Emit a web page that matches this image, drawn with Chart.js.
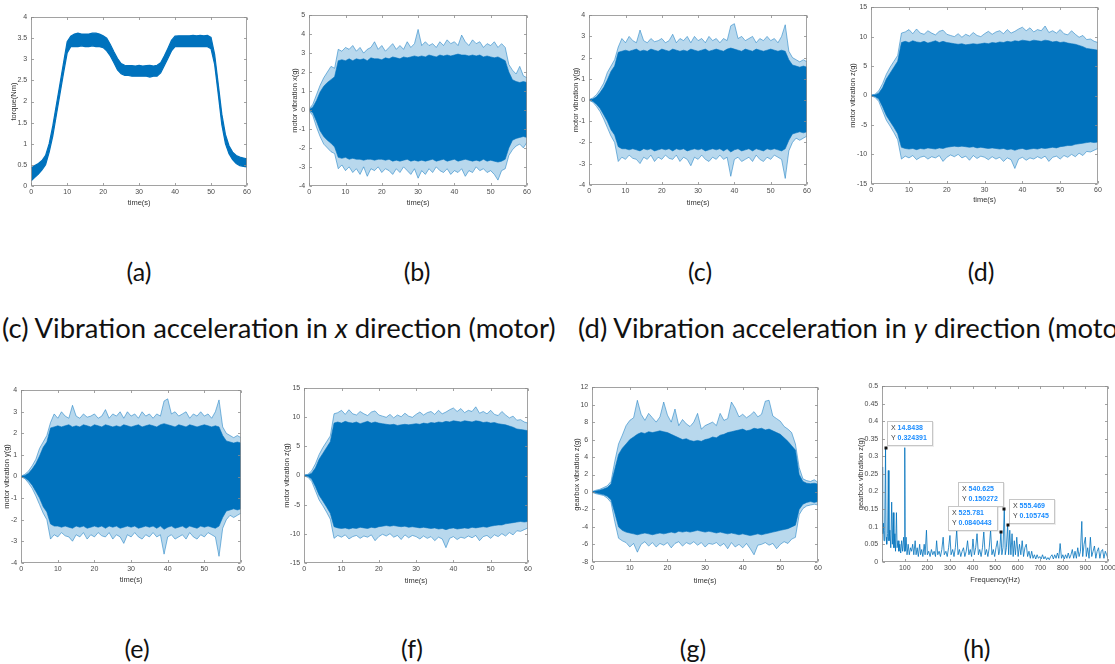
<!DOCTYPE html>
<html><head><meta charset="utf-8">
<script src="https://cdn.jsdelivr.net/npm/chart.js@4.4.0/dist/chart.umd.min.js"></script>
<style>
html,body{margin:0;padding:0;background:#fff;width:1115px;height:664px;overflow:hidden;position:relative}
canvas{position:absolute}
.lab{position:absolute;font-family:Lato,'Open Sans',sans-serif;color:#111;white-space:nowrap;transform:translate(-50%,-50%);line-height:1;font-size:25px}
.cap{position:absolute;font-family:Lato,'Open Sans',sans-serif;color:#111;white-space:nowrap;transform:translateY(-50%);line-height:1;font-size:22px}
</style></head><body>
<div class="lab" style="left:139px;top:271px">(a)</div>
<div class="lab" style="left:417px;top:271px">(b)</div>
<div class="lab" style="left:700px;top:271px">(c)</div>
<div class="lab" style="left:981px;top:271px">(d)</div>
<div class="cap" id="cap1" style="left:2px;top:328px">(c) Vibration acceleration in <i>x</i> direction (motor)</div>
<div class="cap" id="cap2" style="left:578px;top:328px">(d) Vibration acceleration in <i>y</i> direction (motor)</div>
<div class="lab" style="left:137px;top:648px">(e)</div>
<div class="lab" style="left:412px;top:648px">(f)</div>
<div class="lab" style="left:693px;top:648px">(g)</div>
<div class="lab" style="left:977px;top:648px">(h)</div>
<script>
// ---------------- DATA ----------------
const timeS = [0,1,2,3,4,5,6,7,8,9,10,11,12,13,14,15,16,17,18,19,20,21,22,23,24,25,26,27,28,29,30,31,32,33,34,35,36,37,38,39,40,41,42,43,44,45,46,47,48,49,50,51,52,53,54,55,56,57,58,59,60];

// (a) torque band (Nm)
const torqueLo = [0.12,0.2,0.28,0.38,0.5,0.8,1.18,1.68,2.18,2.68, 3.15,3.3,3.3,3.3,3.32,3.3,3.3,3.32,3.3,3.3, 3.28,3.2,3.08,2.92,2.75,2.66,2.62,2.62,2.6,2.6, 2.6,2.6,2.6,2.58,2.6,2.6,2.68,2.85,3.02,3.2, 3.3,3.3,3.3,3.3,3.3,3.3,3.3,3.3,3.3,3.3, 3.25,2.88,2.18,1.45,1.0,0.76,0.62,0.53,0.48,0.46, 0.45];
const torqueHi = [0.42,0.48,0.53,0.6,0.72,1.0,1.42,1.92,2.42,2.92, 3.42,3.55,3.6,3.62,3.6,3.6,3.6,3.62,3.62,3.6, 3.56,3.5,3.35,3.18,3.02,2.9,2.86,2.85,2.85,2.84, 2.86,2.84,2.85,2.86,2.84,2.86,2.92,3.08,3.26,3.45, 3.55,3.56,3.56,3.56,3.56,3.57,3.56,3.57,3.56,3.57, 3.52,3.12,2.42,1.7,1.22,0.95,0.8,0.72,0.68,0.66, 0.64];

// (b) motor vibration x (g)
const mxHi = [0.02,0.15,0.5,0.95,1.25,1.45,1.6,1.75,2.6,2.65, 2.6,2.7,2.6,2.7,2.65,2.7,2.6,2.75,2.7,2.7, 2.65,2.75,2.7,2.8,2.75,2.7,2.8,2.75,2.8,2.85, 2.8,2.85,2.8,2.9,2.85,2.8,2.9,2.85,2.9,2.85, 2.9,2.95,2.9,2.9,2.85,2.9,2.85,2.9,2.8,2.85, 2.8,2.75,2.8,2.7,2.6,2.0,1.6,1.5,1.45,1.5, 1.45];
const mxLo = [-0.02,-0.15,-0.6,-1.1,-1.4,-1.6,-1.75,-1.95,-2.5,-2.55, -2.5,-2.6,-2.55,-2.6,-2.6,-2.65,-2.6,-2.6,-2.65,-2.6, -2.6,-2.65,-2.6,-2.7,-2.65,-2.7,-2.65,-2.6,-2.7,-2.65, -2.7,-2.65,-2.7,-2.65,-2.6,-2.7,-2.65,-2.6,-2.7,-2.65, -2.6,-2.7,-2.65,-2.6,-2.65,-2.7,-2.65,-2.7,-2.6,-2.7, -2.65,-2.7,-2.75,-2.7,-2.6,-2.0,-1.6,-1.5,-1.45,-1.4, -1.45];
const mxPkHi = [0.05,0.3,0.8,1.3,1.7,2.0,2.3,2.2,3.2,3.1, 3.3,3.2,3.4,3.1,3.3,3.0,3.2,3.3,3.6,3.2, 3.4,3.1,3.3,3.5,3.2,3.4,3.2,3.6,3.3,3.5, 4.25,3.4,3.6,3.4,3.5,3.3,3.6,3.4,3.7,3.5, 3.6,3.4,3.95,3.6,3.4,3.7,3.5,3.6,3.3,3.5, 3.4,3.6,3.3,3.5,3.3,2.4,2.1,1.9,2.3,1.8, 1.7];
const mxPkLo = [-0.05,-0.3,-0.9,-1.4,-1.8,-2.0,-2.2,-2.3,-3.1,-2.9, -3.2,-3.0,-3.3,-3.1,-3.4,-3.0,-3.5,-3.1,-3.2,-3.0, -3.3,-3.1,-3.2,-3.4,-3.1,-3.3,-3.0,-3.2,-3.4,-3.1, -3.6,-3.2,-3.4,-3.1,-3.3,-3.0,-3.2,-3.3,-3.1,-3.4, -3.2,-3.3,-3.1,-3.5,-3.2,-3.3,-3.0,-3.2,-3.1,-3.3, -3.2,-3.4,-3.7,-3.2,-3.1,-2.4,-2.1,-1.9,-1.8,-2.0, -1.7];

// (c),(e) motor vibration y (g)
const myHi = [0.01,0.05,0.15,0.35,0.6,0.95,1.35,1.6,2.25,2.3, 2.35,2.3,2.35,2.4,2.3,2.35,2.3,2.4,2.35,2.3, 2.4,2.35,2.3,2.4,2.35,2.3,2.35,2.3,2.4,2.35, 2.3,2.35,2.4,2.3,2.35,2.4,2.35,2.3,2.4,2.45, 2.4,2.35,2.3,2.4,2.35,2.3,2.4,2.35,2.3,2.35, 2.4,2.35,2.3,2.35,2.3,1.9,1.65,1.6,1.55,1.6, 1.55];
const myLo = [-0.01,-0.06,-0.2,-0.4,-0.7,-1.0,-1.4,-1.65,-2.2,-2.3, -2.3,-2.35,-2.3,-2.35,-2.4,-2.3,-2.35,-2.3,-2.4,-2.35, -2.3,-2.35,-2.3,-2.4,-2.3,-2.35,-2.3,-2.4,-2.35,-2.3, -2.35,-2.3,-2.4,-2.35,-2.3,-2.35,-2.3,-2.4,-2.3,-2.45, -2.35,-2.3,-2.4,-2.35,-2.3,-2.4,-2.3,-2.35,-2.4,-2.3, -2.35,-2.3,-2.35,-2.4,-2.3,-1.9,-1.6,-1.55,-1.5,-1.55, -1.5];
const myPkHi = [0.02,0.1,0.25,0.5,0.8,1.3,1.6,1.9,2.5,2.9, 2.7,3.0,2.8,2.7,3.3,2.8,2.7,2.9,2.75,2.8, 2.9,2.7,2.8,3.1,2.7,2.9,2.8,3.0,2.7,3.0, 2.8,2.9,2.7,3.0,2.8,2.9,2.7,2.9,2.8,3.5, 3.6,2.9,3.0,2.8,2.9,3.0,2.7,2.9,2.8,3.0, 2.8,2.9,2.7,3.0,3.55,2.3,2.0,1.9,1.8,1.9, 1.8];
const myPkLo = [-0.02,-0.1,-0.3,-0.55,-0.9,-1.3,-1.7,-2.0,-2.9,-2.7, -2.8,-2.6,-2.75,-2.8,-3.0,-2.7,-2.8,-2.6,-2.9,-2.7, -2.8,-2.6,-2.75,-2.8,-2.6,-2.9,-2.7,-2.8,-3.1,-2.7, -2.8,-2.6,-2.8,-2.9,-2.7,-2.8,-2.6,-2.8,-2.7,-3.6, -2.8,-2.7,-2.9,-2.8,-2.7,-2.9,-2.6,-2.8,-2.9,-2.7, -2.8,-2.6,-2.7,-2.8,-3.7,-2.4,-2.0,-1.8,-1.9,-1.8, -1.7];

// (d),(f) motor vibration z (g)
const mzHi = [0.05,0.1,0.4,1.3,2.8,3.8,4.8,5.8,9.0,9.2, 9.0,9.3,9.1,9.0,9.2,8.9,9.1,9.3,9.0,9.2, 9.0,8.9,8.8,8.7,8.8,8.6,8.7,8.8,8.7,8.8, 8.9,8.8,9.0,8.9,9.1,9.0,9.2,9.1,9.3,9.2, 9.4,9.3,9.2,9.4,9.3,9.2,9.4,9.3,9.1,9.2, 9.0,9.1,8.9,8.8,8.7,8.5,8.3,8.0,7.9,7.8, 7.7];
const mzLo = [-0.05,-0.15,-0.6,-1.9,-3.4,-4.4,-5.4,-6.5,-8.8,-9.0, -9.1,-9.0,-9.2,-9.0,-9.1,-8.9,-9.0,-9.1,-8.9,-9.0, -8.8,-8.7,-8.6,-8.7,-8.6,-8.7,-8.8,-8.7,-8.9,-8.8, -8.9,-9.0,-8.9,-9.0,-9.1,-9.0,-9.2,-9.1,-9.3,-9.1, -9.0,-9.2,-9.1,-9.0,-9.1,-8.9,-9.0,-8.9,-8.8,-8.9, -8.7,-8.6,-8.5,-8.5,-8.3,-8.2,-8.1,-8.0,-7.9,-8.0, -7.9];
const mzPkHi = [0.1,0.2,0.8,2.0,3.6,4.8,5.8,6.8,10.6,10.8, 11.2,10.5,11.3,10.6,10.4,11.0,10.6,10.3,10.9,11.1, 10.4,10.2,10.0,10.5,9.9,10.4,10.1,10.7,10.2,10.0, 10.5,10.9,10.4,10.8,11.0,10.5,11.2,10.6,10.9,11.3, 11.6,11.0,11.5,10.8,11.2,11.0,11.8,10.7,11.0,10.6, 11.2,10.5,10.3,11.0,10.4,9.9,10.2,9.5,9.6,9.2, 9.0];
const mzPkLo = [-0.1,-0.3,-1.0,-2.6,-4.2,-5.2,-6.3,-7.5,-10.8,-10.3, -10.6,-10.2,-10.9,-10.5,-10.3,-10.8,-10.4,-10.6,-10.2,-11.2, -10.5,-10.1,-10.4,-10.0,-10.6,-10.3,-11.0,-10.2,-10.7,-10.3, -10.5,-10.9,-10.4,-10.8,-10.5,-11.2,-10.6,-10.9,-12.4,-10.8, -10.5,-11.0,-10.6,-10.8,-10.4,-10.7,-10.3,-11.2,-10.5,-10.3, -10.8,-10.2,-10.5,-10.0,-10.4,-9.8,-10.2,-9.5,-9.6,-9.3, -9.0];

// (g) gearbox vibration z (g)
const gbHi = [0.02,0.1,0.2,0.35,0.5,0.9,2.6,4.3,5.0,5.5, 6.0,6.3,6.6,6.8,6.7,6.9,6.8,6.9,7.0,6.9, 6.8,6.6,6.4,6.2,6.0,6.1,5.9,5.8,5.9,5.8, 6.0,6.1,6.3,6.2,6.5,6.6,6.8,6.9,7.0,7.1, 7.2,7.0,7.1,7.3,7.2,7.3,7.1,7.2,7.0,6.8, 6.6,6.2,5.8,5.3,4.8,2.0,1.2,1.0,0.95,1.0, 0.9];
const gbLo = [-0.02,-0.1,-0.2,-0.3,-0.5,-0.9,-2.4,-4.0,-4.4,-4.6, -4.7,-4.8,-4.9,-4.8,-4.7,-4.8,-4.9,-4.8,-4.7,-4.8, -4.7,-4.6,-4.7,-4.5,-4.6,-4.5,-4.6,-4.5,-4.4,-4.5, -4.6,-4.5,-4.6,-4.7,-4.6,-4.7,-4.8,-4.7,-4.8,-4.9, -4.8,-4.9,-5.0,-4.9,-4.8,-4.9,-4.8,-4.7,-4.6,-4.5, -4.4,-4.3,-4.2,-4.0,-3.8,-2.0,-1.4,-1.2,-1.1,-1.2, -1.1];
const gbPkHi = [0.05,0.2,0.3,0.5,0.7,1.2,3.5,5.5,6.5,7.6, 8.2,8.5,10.5,8.9,8.2,9.0,8.5,8.0,8.6,10.3, 8.8,8.0,9.5,7.6,8.3,7.8,7.5,8.0,9.0,7.2, 7.6,7.8,8.0,7.6,9.0,8.2,8.4,10.3,9.6,8.6, 8.9,8.5,8.8,9.2,8.6,8.9,10.4,10.5,8.7,8.4, 8.1,7.5,7.2,6.8,5.5,2.8,1.5,1.3,1.2,1.4, 1.1];
const gbPkLo = [-0.05,-0.2,-0.3,-0.4,-0.7,-1.2,-3.4,-5.3,-5.6,-5.8, -6.3,-5.9,-6.9,-6.0,-5.7,-6.2,-5.8,-6.3,-5.9,-6.1, -5.8,-6.4,-5.9,-5.7,-6.2,-5.8,-6.0,-5.7,-6.1,-5.8, -6.3,-5.9,-6.0,-5.8,-6.2,-5.9,-6.5,-5.8,-6.3,-6.0, -6.4,-5.9,-6.5,-7.2,-6.1,-6.0,-5.8,-6.1,-5.9,-6.5, -6.0,-5.7,-5.9,-5.4,-5.2,-2.6,-1.9,-1.6,-1.5,-1.4, -1.5];

// (h) gearbox spectrum
const freqHz = [0,2,5,8,11,14.8438,17,20,24,27,30,34,38,42,45,49,52,56,59,63,66,70,74,78,82,86,90,95,98,100,102,106,110,115,120,125,130,135,140,146,150,155,160,166,170,175,180,186,190,196,200,206,212,218,224,230,236,241,246,252,258,264,270,275,282,288,294,300,305,312,318,324,330,336,342,348,354,360,366,372,378,384,390,396,402,408,414,420,426,432,438,444,450,456,462,468,474,480,486,492,498,504,510,516,520,525.781,530,535,540.625,545,550,555.469,560,565,570,575,580,585,590,596,602,608,614,620,626,632,638,644,650,656,662,668,674,680,686,692,698,704,710,716,722,728,734,740,746,752,758,764,770,776,782,788,794,800,806,812,818,824,830,836,842,848,854,860,866,872,878,884,888,894,900,904,910,916,922,928,934,940,946,952,958,964,970,976,982,988,994,1000];
const ampG = [0.27,0.08,0.11,0.06,0.09,0.324391,0.07,0.05,0.08,0.26,0.06,0.09,0.04,0.17,0.05,0.14,0.04,0.08,0.03,0.14,0.04,0.06,0.03,0.05,0.025,0.06,0.03,0.07,0.03,0.325,0.03,0.07,0.02,0.05,0.02,0.04,0.03,0.05,0.02,0.06,0.02,0.04,0.015,0.05,0.02,0.035,0.015,0.05,0.02,0.09,0.02,0.03,0.015,0.035,0.02,0.03,0.015,0.06,0.02,0.03,0.015,0.035,0.07,0.02,0.03,0.015,0.04,0.075,0.02,0.035,0.015,0.04,0.09,0.02,0.035,0.015,0.03,0.04,0.015,0.03,0.06,0.02,0.035,0.015,0.065,0.02,0.04,0.08,0.02,0.035,0.015,0.04,0.085,0.02,0.035,0.015,0.04,0.09,0.02,0.035,0.015,0.04,0.06,0.02,0.03,0.0840443,0.02,0.04,0.150272,0.02,0.04,0.105745,0.02,0.09,0.02,0.08,0.015,0.06,0.02,0.07,0.015,0.05,0.02,0.06,0.015,0.04,0.05,0.015,0.03,0.01,0.03,0.01,0.02,0.008,0.02,0.01,0.015,0.008,0.02,0.008,0.015,0.006,0.012,0.006,0.015,0.02,0.008,0.02,0.01,0.025,0.01,0.052,0.01,0.02,0.008,0.02,0.01,0.025,0.01,0.02,0.035,0.01,0.03,0.01,0.04,0.015,0.03,0.115,0.015,0.05,0.07,0.015,0.04,0.01,0.07,0.015,0.03,0.045,0.01,0.03,0.04,0.01,0.03,0.035,0.01,0.03,0.02,0.01];

// data tips on (h)
const tipFreq = [14.8438, 540.625, 525.781, 555.469];
const tipAmp  = [0.324391, 0.150272, 0.0840443, 0.105745];

// tick values
const timeTicks = [0,10,20,30,40,50,60];
const freqTicks = [0,100,200,300,400,500,600,700,800,900,1000];

// ---------------- STYLE / BUILD ----------------
const DARK = '#0072BD';
const LIGHT_FILL = 'rgba(0,114,189,0.28)';
const LIGHT_LINE = 'rgba(0,114,189,0.55)';
const FONT = "'Liberation Sans', Arial, Helvetica, sans-serif";
Chart.defaults.font.family = FONT;

const pts = (xs, ys) => xs.map((x, i) => ({x, y: ys[i]}));

function bandSets(hi, lo, pkHi, pkLo) {
  return [
    {data: pts(timeS, hi), fill: '+1', backgroundColor: DARK, borderColor: DARK, borderWidth: 0.6},
    {data: pts(timeS, lo), fill: false, borderColor: DARK, borderWidth: 0.6},
    {data: pts(timeS, pkHi), fill: '+1', backgroundColor: LIGHT_FILL, borderColor: LIGHT_LINE, borderWidth: 0.9},
    {data: pts(timeS, pkLo), fill: false, borderColor: LIGHT_LINE, borderWidth: 0.9}
  ];
}

const framePlugin = {
  id: 'frame',
  afterDatasetsDraw(chart) {
    const {ctx, chartArea: a, scales} = chart;
    ctx.save();
    ctx.strokeStyle = '#8c8c8c';
    ctx.lineWidth = 0.8;
    const L = Math.round(a.left) + 0.5, T = Math.round(a.top) + 0.5;
    const R = Math.round(a.right) - 0.5, B = Math.round(a.bottom) - 0.5;
    ctx.strokeRect(L, T, R - L, B - T);
    ctx.beginPath();
    scales.x.ticks.forEach(t => {
      const px = Math.round(scales.x.getPixelForValue(t.value)) + 0.5;
      ctx.moveTo(px, B); ctx.lineTo(px, B - 2.5);
      ctx.moveTo(px, T); ctx.lineTo(px, T + 2.5);
    });
    scales.y.ticks.forEach(t => {
      const py = Math.round(scales.y.getPixelForValue(t.value)) + 0.5;
      ctx.moveTo(L, py); ctx.lineTo(L + 2.5, py);
      ctx.moveTo(R, py); ctx.lineTo(R - 2.5, py);
    });
    ctx.stroke();
    ctx.restore();
  }
};

const tipPlugin = {
  id: 'tips',
  afterDraw(chart, args, opts) {
    if (!opts || !opts.items) return;
    const {ctx, scales: {x, y}} = chart;
    opts.items.forEach(it => {
      const px = x.getPixelForValue(it.x), py = y.getPixelForValue(it.y);
      ctx.save();
      const lf = "7px " + FONT, vf = "bold 7px " + FONT;
      ctx.font = lf; const wl = ctx.measureText('Y ').width;
      ctx.font = vf; const wv = Math.max(ctx.measureText(String(it.x)).width, ctx.measureText(String(it.y)).width);
      const bw = Math.round(4 + wl + wv + 5), bh = 24;
      let bx = it.side === 'l' ? px - it.gap - bw : px + it.gap;
      bx = Math.round(bx); const by = Math.round(py + it.dy);
      ctx.fillStyle = 'rgba(0,0,0,0.07)'; ctx.fillRect(bx + 1, by + 1, bw + 1, bh + 1);
      ctx.fillStyle = 'rgba(255,255,255,0.96)'; ctx.fillRect(bx, by, bw, bh);
      ctx.strokeStyle = '#c6c6c6'; ctx.lineWidth = 1; ctx.strokeRect(bx + 0.5, by + 0.5, bw, bh);
      ctx.textBaseline = 'middle';
      ctx.font = lf; ctx.fillStyle = '#404040';
      ctx.fillText('X', bx + 4, by + 7.5); ctx.fillText('Y', bx + 4, by + 17);
      ctx.font = vf; ctx.fillStyle = '#1a8cff';
      ctx.fillText(String(it.x), bx + 4 + wl, by + 7.5); ctx.fillText(String(it.y), bx + 4 + wl, by + 17);
      ctx.fillStyle = '#111'; ctx.fillRect(Math.round(px) - 1.5, Math.round(py) - 1.5, 3, 3);
      ctx.restore();
    });
  }
};

const fmt = v => String(Number(Number(v).toFixed(4)));

function makeChart(s) {
  const yW = s.L - s.ytc + 4.2, xH = s.xtc - s.B + 4.2;
  const pT = 6, pR = 10;
  const W = Math.round(yW + (s.R - s.L) + pR), H = Math.round(pT + (s.B - s.T) + xH);
  const cv = document.createElement('canvas');
  cv.width = W; cv.height = H; cv.style.width = W + 'px'; cv.style.height = H + 'px';
  cv.style.left = (s.L - yW) + 'px'; cv.style.top = (s.T - pT) + 'px';
  document.body.appendChild(cv);
  const tickFont = {family: FONT, size: 7};
  const titleFont = {family: FONT, size: 7.5};
  const chart = new Chart(cv, {
    type: 'line',
    data: {datasets: s.datasets},
    options: {
      responsive: false, animation: false, devicePixelRatio: 1,
      layout: {padding: {top: pT, right: pR, left: 0, bottom: 0}},
      plugins: {legend: {display: false}, tooltip: {enabled: false}, tips: s.tips || {}},
      elements: {point: {radius: 0}, line: {tension: 0}},
      scales: {
        x: {
          type: 'linear', min: s.xTicks[0], max: s.xTicks[s.xTicks.length - 1],
          afterBuildTicks: sc => { sc.ticks = s.xTicks.map(v => ({value: v})); },
          afterFit: sc => { sc.height = xH; },
          grid: {display: false, drawTicks: false}, border: {display: false},
          ticks: {font: tickFont, color: '#4a4a4a', padding: 2, maxRotation: 0, autoSkip: false,
                  callback: v => (s.hideX0 && v === 0) ? '' : fmt(v)},
          title: {display: true, text: s.xTitle, font: titleFont, color: '#333', padding: 0}
        },
        y: {
          type: 'linear', min: s.yTicks[0], max: s.yTicks[s.yTicks.length - 1],
          afterBuildTicks: sc => { sc.ticks = s.yTicks.map(v => ({value: v})); },
          afterFit: sc => { sc.width = yW; },
          grid: {display: false, drawTicks: false}, border: {display: false},
          ticks: {font: tickFont, color: '#4a4a4a', padding: 4, autoSkip: false, callback: v => fmt(v)},
          title: {display: true, text: s.yTitle, font: titleFont, color: '#333', padding: 0}
        }
      }
    },
    plugins: [framePlugin, tipPlugin]
  });
  const a = chart.chartArea;
  const dw = (s.R - s.L) - (a.right - a.left), dh = (s.B - s.T) - (a.bottom - a.top);
  if (Math.abs(dw) > 0.5 || Math.abs(dh) > 0.5) {
    const nW = Math.round(W + dw), nH = Math.round(H + dh);
    cv.width = nW; cv.height = nH; cv.style.width = nW + 'px'; cv.style.height = nH + 'px';
    chart.resize(nW, nH);
  }
  const b = chart.chartArea;
  cv.style.left = (s.L - b.left) + 'px';
  cv.style.top = (s.T - b.top) + 'px';
  return chart;
}

const range = (a, b, st) => { const r = []; for (let v = a; v <= b + 1e-9; v += st) r.push(+v.toFixed(4)); return r; };

const tTitle = 'time(s)';
makeChart({L:31, T:17, R:247, B:188, ytc:13, xtc:205, xTicks: timeTicks, yTicks: range(0,4,0.5),
  xTitle: tTitle, yTitle: 'torque(Nm)',
  datasets: [{data: pts(timeS, torqueHi), fill: '+1', backgroundColor: DARK, borderColor: DARK, borderWidth: 1.2},
             {data: pts(timeS, torqueLo), fill: false, borderColor: DARK, borderWidth: 1.2}]});
makeChart({L:309, T:15, R:527, B:188, ytc:294, xtc:205, xTicks: timeTicks, yTicks: range(-4,5,1),
  xTitle: tTitle, yTitle: 'motor vibration x(g)', datasets: bandSets(mxHi, mxLo, mxPkHi, mxPkLo)});
makeChart({L:589, T:15, R:807, B:187, ytc:575, xtc:205, xTicks: timeTicks, yTicks: range(-4,4,1),
  xTitle: tTitle, yTitle: 'motor vibration y(g)', datasets: bandSets(myHi, myLo, myPkHi, myPkLo)});
makeChart({L:871, T:7, R:1098, B:186, ytc:852, xtc:202, xTicks: timeTicks, yTicks: range(-15,15,5),
  xTitle: tTitle, yTitle: 'motor vibration z(g)', datasets: bandSets(mzHi, mzLo, mzPkHi, mzPkLo)});
makeChart({L:21, T:390, R:241, B:565, ytc:6, xtc:582, xTicks: timeTicks, yTicks: range(-4,4,1),
  xTitle: tTitle, yTitle: 'motor vibration y(g)', datasets: bandSets(myHi, myLo, myPkHi, myPkLo)});
makeChart({L:304, T:388, R:528, B:565, ytc:286, xtc:583, xTicks: timeTicks, yTicks: range(-15,15,5),
  xTitle: tTitle, yTitle: 'motor vibration z(g)', datasets: bandSets(mzHi, mzLo, mzPkHi, mzPkLo)});
makeChart({L:592, T:387, R:818, B:564, ytc:576, xtc:583, xTicks: timeTicks, yTicks: range(-8,12,2),
  xTitle: tTitle, yTitle: 'gearbox vibration z(g)', datasets: bandSets(gbHi, gbLo, gbPkHi, gbPkLo)});
makeChart({L:882, T:386, R:1108, B:564, ytc:860, xtc:582, xTicks: freqTicks, yTicks: range(0,0.5,0.05),
  hideX0: true, xTitle: 'Frequency(Hz)', yTitle: 'gearbox vibration z(g)',
  datasets: [{data: pts(freqHz, ampG), fill: false, borderColor: DARK, borderWidth: 0.8}],
  tips: {items: [
    {x: tipFreq[0], y: tipAmp[0], side: 'r', gap: 1, dy: -27},
    {x: tipFreq[1], y: tipAmp[1], side: 'l', gap: 1, dy: -27},
    {x: tipFreq[2], y: tipAmp[2], side: 'l', gap: 4, dy: -26},
    {x: tipFreq[3], y: tipAmp[3], side: 'r', gap: 1, dy: -26}
  ]}});

// fit caption width to the reference line length
(function fitCaptions(){
  const c1 = document.getElementById('cap1'), c2 = document.getElementById('cap2');
  const w = c1.getBoundingClientRect().width;
  const fs = 22 * 554 / w;
  c1.style.fontSize = fs + 'px'; c2.style.fontSize = fs + 'px';
})();
</script>
</body></html>
